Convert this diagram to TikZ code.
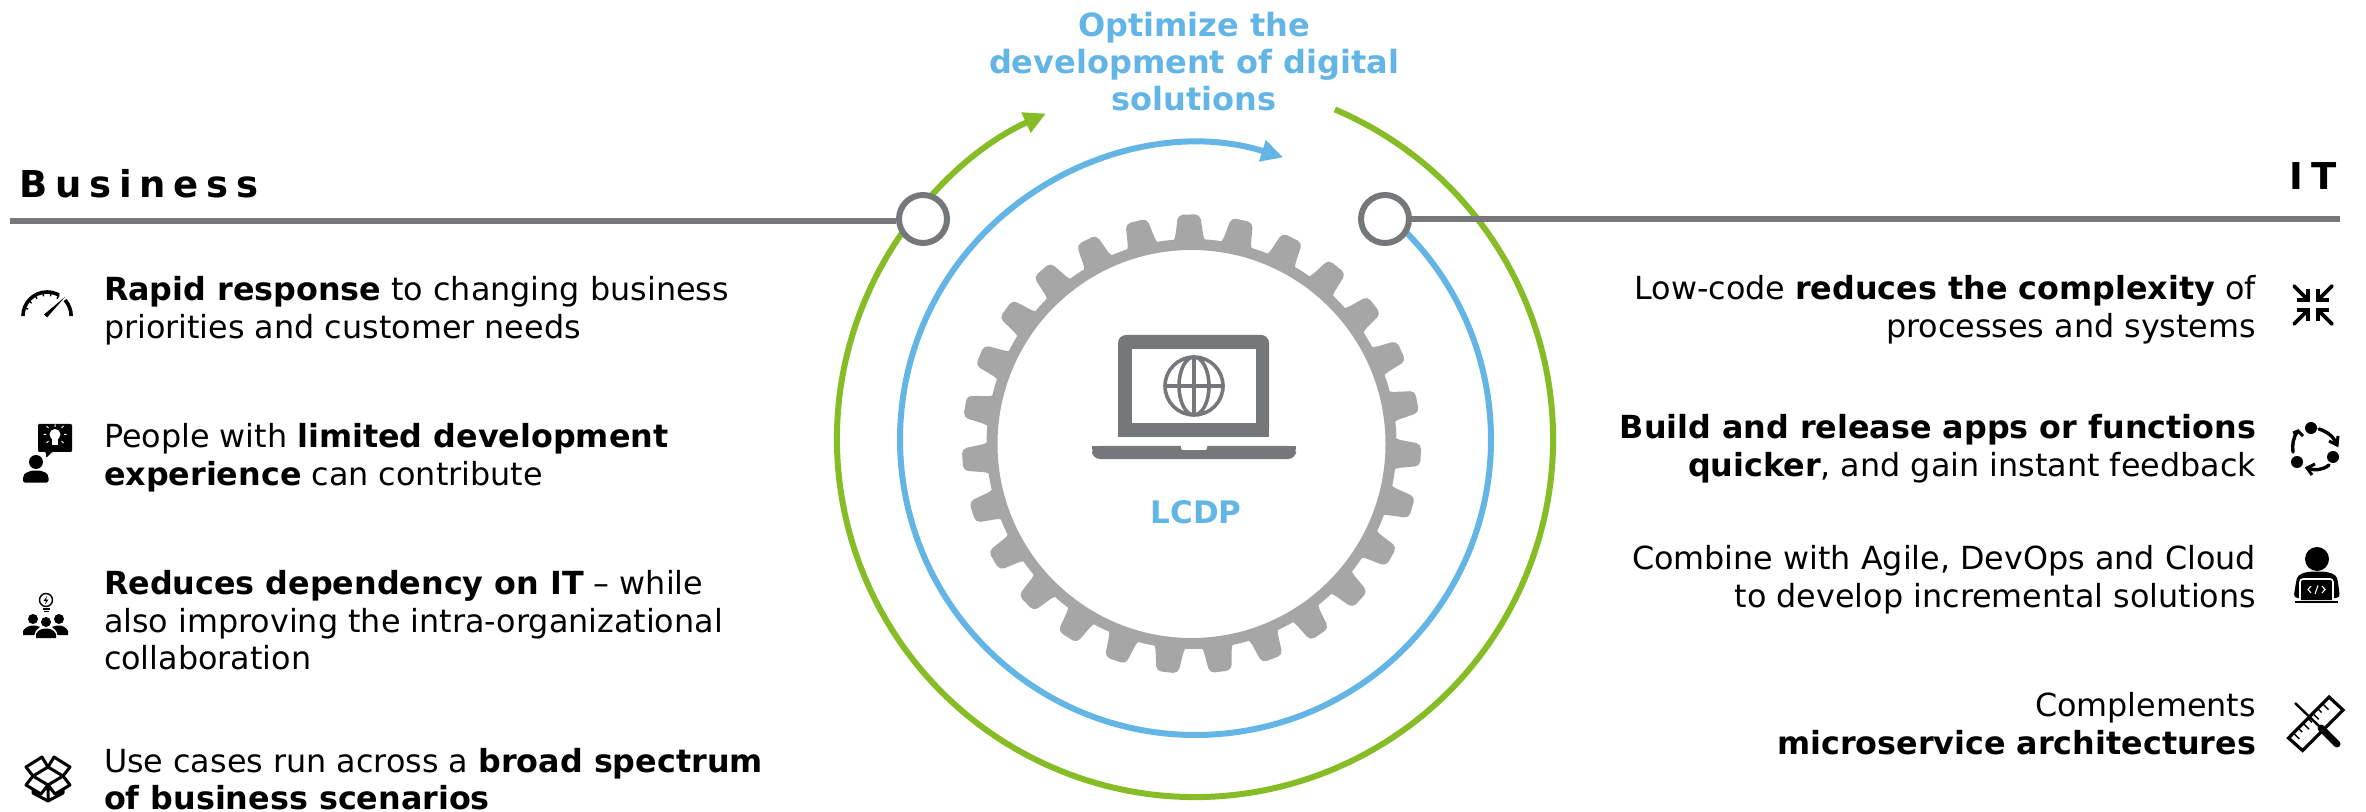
\documentclass[tikz,border=0pt]{standalone}
\usepackage{fontspec}
\usetikzlibrary{arrows.meta}
\setmainfont{DejaVu Sans}
\newfontfamily\hdrfont[LetterSpace=21]{DejaVu Sans Bold}
\definecolor{cblue}{HTML}{62B5E5}
\definecolor{cgreen}{HTML}{86BC25}
\definecolor{cgray}{HTML}{75787B}
\definecolor{cgear}{HTML}{A6A6A6}
\newcommand{\fl}{\rule{0pt}{11pt}}
\tikzset{
  body/.style={inner sep=0pt,outer sep=0pt,font=\fontsize{15.9}{18.8}\selectfont},
  lefttxt/.style={body,anchor=north west,align=left},
  righttxt/.style={body,anchor=north east,align=right},
  hdr/.style={inner sep=0pt,font=\fontsize{18.5}{20}\hdrfont},
  rail/.style={draw=cgray,line width=3pt},
  hub/.style={circle,draw=cgray,fill=white,line width=3pt,minimum size=24pt,inner sep=0pt},
  ringblue/.style={draw=cblue,line width=3pt},
  ringgreen/.style={draw=cgreen,line width=3pt},
  tiptri/.style={-{Triangle[length=11pt,width=10.5pt]}},
  ico/.style={draw=black,line width=1.5pt},
}
\begin{document}
\begin{tikzpicture}[x=0.5pt,y=-0.5pt]
\useasboundingbox (0,0) rectangle (2366,812);
% rings
\coordinate (bluestart) at ({1195.5+295.5*cos(-49.4)},{439.5+295.5*sin(-49.4)});
\coordinate (greenstart) at ({1195+358*cos(-67)},{439+358*sin(-67)});
\draw[ringblue,tiptri] (bluestart) arc[start angle=-49.4,end angle=287.3,radius=295.5];
\draw[ringgreen,tiptri] (greenstart) arc[start angle=-67,end angle=245.4,radius=358];
% gear
\coordinate (gc) at (1191.5,444);
\fill[cgear,even odd rule] (gc) circle[radius=205] (gc) circle[radius=194];
\foreach \k in {0,...,26}{
  \fill[cgear,shift={(gc)},rotate={90.6+\k*360/27},rounded corners=2.5pt]
    (200,-18) -- (204.5,-14.5) -- (229.5,-11) -- (229.5,11) -- (204.5,14.5) -- (200,18) -- cycle;
}
% rails and hubs
\coordinate (railL) at (10,221.5);
\coordinate (railR) at (2340,219);
\node[hub] (hubL) at (923,219) {};
\node[hub] (hubR) at (1385,219) {};
\draw[rail] (railL) -- (hubL.west |- railL);
\draw[rail] (hubR.east) -- (railR);
% headers
\node[hdr,anchor=base west] (hbiz) at (19,198) {Business};
\node[hdr,anchor=base east] (hit) at (2337,190) {IT};
% title
\node[inner sep=0pt,anchor=base,text=cblue,font=\fontsize{16}{18.6}\selectfont\bfseries,align=center] (title) at (1194,110.5) {Optimize the\\development of digital\\solutions};
% laptop
\fill[cgray,rounded corners=4pt] (1118,437) -- (1118,335) -- (1269,335) -- (1269,437) -- cycle;
\fill[cgray] (1118,425) rectangle (1269,437);
\fill[white] (1132,349) rectangle (1256,423);
\fill[cgray,rounded corners=4pt] (1092,446) -- (1092,459) -- (1296,459) -- (1296,446) -- cycle;
\fill[cgray] (1092,446) rectangle (1296,450);
\fill[white,rounded corners=1pt] (1181,444) -- (1181,450) -- (1207,450) -- (1207,444) -- cycle;
\draw[cgray,line width=1.8pt] (1194,386) circle[radius=29] (1194,386) ellipse[x radius=15,y radius=29] (1165,386) -- (1223,386) (1194,357) -- (1194,415);
\node[inner sep=0pt,anchor=base,text=cblue,font=\fontsize{15.5}{18}\selectfont\bfseries] (lcdp) at (1196,523) {LCDP};
% left texts
\node[lefttxt] (l1) at (104,276.5) {\fl\textbf{Rapid response} to changing business\\priorities and customer needs};
\node[lefttxt] (l2) at (104,423.5) {\fl People with \textbf{limited development}\\\textbf{experience} can contribute};
\node[lefttxt] (l3) at (104,570.5) {\fl\textbf{Reduces dependency on IT} – while\\also improving the intra-organizational\\collaboration};
\node[lefttxt] (l4) at (104,748) {\fl Use cases run across a \textbf{broad spectrum}\\\textbf{of business scenarios}};
% right texts
\node[righttxt] (r1) at (2256,275.5) {\fl Low-code \textbf{reduces the complexity} of\\processes and systems};
\node[righttxt] (r2) at (2256,414.5) {\fl\textbf{Build and release apps or functions}\\\textbf{quicker}, and gain instant feedback};
\node[righttxt] (r3) at (2256,545.5) {\fl Combine with Agile, DevOps and Cloud\\to develop incremental solutions};
\node[righttxt] (r4) at (2256,692.5) {\fl Complements\\\textbf{microservice architectures}};
% icon gauge
\draw[ico,line width=1.8pt] (23,316) arc[start angle=180,end angle=300,radius=24];
\draw[ico,line width=1.8pt] (65,300) arc[start angle=-42,end angle=0,radius=24];
\foreach \a in {200,220,240,260,280,300}{\draw[black,line width=.7pt] ({47+24*cos(\a)},{316+24*sin(\a)}) -- ({47+20*cos(\a)},{316+20*sin(\a)});}
\fill[black] (44,314.5) -- (65,297) -- (47,317.5) -- cycle;
% icon person with bubble
\fill[black,rounded corners=.6pt] (38,424) -- (72,424) -- (72,452) -- (52,452) -- (46,458) -- (46,452) -- (38,452) -- cycle;
\fill[white] (55,434.5) circle[radius=5.5];
\fill[white] (52,439) rectangle (58,445);
\draw[white,line width=.5pt] (55,424.5)--(55,427) (46,434.5)--(43.5,434.5) (64,434.5)--(66.5,434.5) (48.5,428)--(46.5,426) (61.5,428)--(63.5,426) (48.5,441)--(46.5,443) (61.5,441)--(63.5,443);
\fill[black] (36,462) circle[radius=7];
\fill[black,rounded corners=1pt] (23,482.5) -- (23,476) .. controls (26,472) and (32,470.5) .. (36,470.5) .. controls (40,470.5) and (46,472) .. (48.5,476) -- (48.5,482.5) -- cycle;
% icon team
\draw[black,line width=.7pt] (46,600) circle[radius=6.5];
\fill[black] (47,596) -- (43.5,601) -- (46,601) -- (45,604.5) -- (48.5,599.5) -- (46,599.5) -- cycle;
\draw[black,line width=.7pt] (42.5,609) -- (49.5,609) (43.5,611.5) -- (48.5,611.5);
\fill[black] (33,619) circle[radius=5] (59,619) circle[radius=5] (46,622) circle[radius=5];
\fill[black] (23,635) -- (23,631) .. controls (25,627) and (30,625.5) .. (33,625.5) .. controls (36,625.5) and (38,626) .. (40,627) .. controls (37,629) and (35,631) .. (34.5,635) -- cycle;
\fill[black] (68,635) -- (68,631) .. controls (66,627) and (62,625.5) .. (59,625.5) .. controls (56,625.5) and (54,626) .. (52,627) .. controls (55,629) and (57,631) .. (57.5,635) -- cycle;
\fill[black] (36,638) -- (36,634) .. controls (38,630) and (42,628.5) .. (46,628.5) .. controls (50,628.5) and (54,630) .. (56,634) -- (56,638) -- cycle;
% icon box
\draw[ico,line join=round] (48,767) -- (33,776) -- (48,785) -- (63,776) -- cycle
 (33,776) -- (26,767) -- (42,757) -- (48,767) -- (54,757) -- (70,767) -- (63,776)
 (33,776) -- (26,785) -- (41,794) -- (48,785) -- (55,794) -- (70,785) -- (63,776)
 (33,789) -- (33,793) -- (48,801) -- (63,793) -- (63,789) (48,785) -- (48,801);
% icon compress
\foreach \sx/\sy/\tx/\ty in {2294/286/2308/300,2332/286/2318/300,2294/324/2308/310,2332/324/2318/310}{
  \draw[ico,line width=1.8pt,line cap=round] (\sx,\sy) -- (\tx,\ty);
}
\draw[ico,line width=1.8pt,line join=miter] (2308,289) -- (2308,300) -- (2297,300) (2318,289) -- (2318,300) -- (2329,300) (2308,321) -- (2308,310) -- (2297,310) (2318,321) -- (2318,310) -- (2329,310);
% icon cycle
\fill[black] (2311,428) circle[radius=6] (2333,457) circle[radius=6] (2297,462) circle[radius=6];
\draw[ico,line width=1.7pt,line cap=round] (2319,429) .. controls (2328,432) and (2334,437) .. (2337,445);
\draw[ico,line width=1.7pt,line cap=round] (2329,465) .. controls (2323,470) and (2315,471) .. (2307,468);
\draw[ico,line width=1.7pt,line cap=round] (2293,452) .. controls (2292,445) and (2293,437) .. (2298,431);
\draw[ico,line width=1.5pt] (2338,436) -- (2337,445) -- (2329,441) (2315,464) -- (2307,468) -- (2312,475) (2293,433) -- (2298,431) -- (2303,436);
% icon developer
\fill[black] (2317,559) circle[radius=12];
\fill[black,rounded corners=2pt] (2293.5,598) -- (2296,582) .. controls (2298,574) and (2306,571.5) .. (2317,571.5) .. controls (2328,571.5) and (2336,574) .. (2338,582) -- (2340,598) -- cycle;
\fill[black,draw=white,line width=.8pt,rounded corners=1.5pt] (2300,600) -- (2300,579) -- (2333,579) -- (2333,600);
\draw[black,line width=1pt] (2295,602) -- (2338,602);
\draw[white,line width=.55pt] (2311,586) -- (2308,589.5) -- (2311,593) (2315,594) -- (2318,585.5) (2322,586) -- (2325,589.5) -- (2322,593);
% icon ruler and screwdriver
\draw[ico,line width=1.6pt,line join=miter] (2288.5,738) -- (2329,697) -- (2343,710) -- (2302.5,750.5) -- cycle;
\foreach \t/\l in {0.12/5,0.24/3,0.36/5,0.48/3,0.6/5,0.72/3,0.84/5}{
  \draw[black,line width=.7pt] ({2288.5+\t*40.5+1},{738-\t*41+1}) -- ({2288.5+\t*40.5+1+\l},{738-\t*41+1+\l});
}
\draw[black,line width=1.2pt] (2295,703) -- (2320,727);
\draw[black,line width=3.5pt,line cap=round] (2321,728) -- (2337,744);
\end{tikzpicture}
\end{document}
